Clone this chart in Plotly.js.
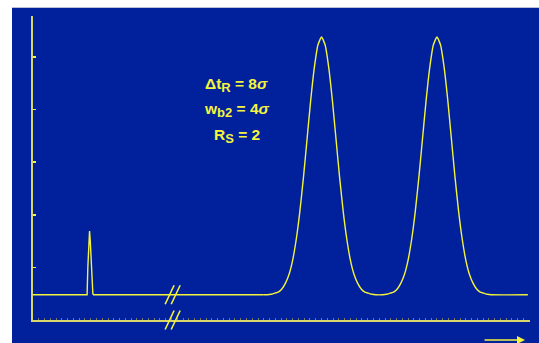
<!DOCTYPE html>
<html>
<head>
<meta charset="utf-8">
<script src="https://cdn.plot.ly/plotly-3.0.1.min.js"></script>
<style>
  html, body { margin: 0; padding: 0; background: #ffffff; width: 539px; height: 343px; overflow: hidden; }
  #chart { position: absolute; left: 12px; top: 7px; width: 527px; height: 336px; border-top: 1px solid #b8c0dc; box-sizing: border-box; }
</style>
</head>
<body>
<div id="chart"></div>
<script>
// Chromatogram (time in units of sigma, detector signal in tick units)
// Unretained solute spike + baseline up to the break
const spikeTime = [0, 3.75, 3.8, 3.85, 3.92, 3.97, 4.05, 4.15, 4.2, 16.0];
const spikeSignal = [0.48, 0.48, 1.0, 1.4, 1.69, 1.5, 0.9, 0.5, 0.48, 0.48];
// Two resolved peaks (Rs = 2) and the trailing baseline
const peakTime = [
  16.0,
  16.25, 16.5, 16.75, 17, 17.25, 17.5, 17.75, 18, 18.25, 18.5, 18.75, 19, 19.25, 19.5, 19.75,
  20, 20.25, 20.5, 20.75, 21, 21.25, 21.5, 21.75, 22, 22.25, 22.5, 22.75, 23, 23.25, 23.5, 23.75,
  24.25, 24.5, 24.75, 25, 25.25, 25.5, 25.75, 26, 26.25, 26.5, 26.75, 27, 27.25, 27.5, 27.75,
  28, 28.25, 28.5, 28.75, 29, 29.25, 29.5, 29.75, 30, 30.25, 30.5, 30.75, 31, 31.25, 31.5, 31.75,
  34.3
];
const peakSignal = [
  0.48,
  0.48, 0.49, 0.51, 0.53, 0.59, 0.70, 0.87, 1.14, 1.54, 2.07, 2.72, 3.45, 4.18, 4.80, 5.23,
  5.38, 5.23, 4.80, 4.18, 3.45, 2.72, 2.07, 1.54, 1.14, 0.87, 0.70, 0.59, 0.53, 0.51, 0.49, 0.48,
  0.48, 0.49, 0.51, 0.53, 0.59, 0.70, 0.87, 1.14, 1.54, 2.07, 2.72, 3.45, 4.18, 4.80, 5.23,
  5.38, 5.23, 4.80, 4.18, 3.45, 2.72, 2.07, 1.54, 1.14, 0.87, 0.70, 0.59, 0.53, 0.51, 0.49, 0.48,
  0.48
];
const yTickVals = [1, 2, 3, 4, 5];
const breakTimes = [9.47, 9.89];      // axis-break slash positions (time units)
const breakLevels = [0.48, 0.0];      // on the baseline and on the time axis
const labelLines = [
  'Δt<sub><span style="font-size:13px">R</span></sub> = 8<i>σ</i>',
  'w<sub><span style="font-size:13px">b2</span></sub> = 4<i>σ</i>',
  'R<sub><span style="font-size:13px">S</span></sub> = 2'
];

const xRange = [0, 34.45];
const yRange = [0, 5.78];
const yellow = '#f4f43c';
const axisYellow = '#d6d66a';
const blue = '#00209c';

function px(v) { return (v - xRange[0]) / (xRange[1] - xRange[0]); }
function py(v) { return (v - yRange[0]) / (yRange[1] - yRange[0]); }

const plotW = 527 - 21 - 9, plotH = 336 - 8 - 24;
const shapes = [];
breakTimes.forEach(function (t) {
  breakLevels.forEach(function (lv) {
    const cx = px(t), cy = py(lv);
    shapes.push({
      type: 'line', xref: 'paper', yref: 'paper',
      x0: cx - 4.5 / plotW, x1: cx + 4.5 / plotW,
      y0: cy - 9.5 / plotH, y1: cy + 9.5 / plotH,
      line: { color: yellow, width: 1.6 }
    });
  });
});

const annotations = labelLines.map(function (s, i) {
  return {
    xref: 'paper', yref: 'paper', x: 0.41, y: [0.772, 0.69, 0.605][i],
    text: s, showarrow: false, xanchor: 'center', yanchor: 'middle',
    font: { family: 'Liberation Sans, Arial, sans-serif', size: 15.5, color: yellow, weight: 'bold' }
  };
});
annotations.push({
  xref: 'paper', yref: 'paper', x: 0.99, y: -0.066,
  ax: -42, ay: 0, text: '', showarrow: true,
  arrowhead: 2, arrowsize: 1, arrowwidth: 1.6, arrowcolor: yellow
});

const traces = [
  {
    x: spikeTime, y: spikeSignal, type: 'scatter', mode: 'lines',
    line: { color: yellow, width: 1.4 }, hoverinfo: 'skip'
  },
  {
    x: peakTime, y: peakSignal, type: 'scatter', mode: 'lines',
    line: { color: yellow, width: 1.4, shape: 'spline', smoothing: 0.5 }, hoverinfo: 'skip'
  }
];

const layout = {
  width: 527, height: 336,
  margin: { l: 21, r: 9, t: 8, b: 24, pad: 0 },
  paper_bgcolor: blue, plot_bgcolor: blue,
  showlegend: false,
  xaxis: {
    range: xRange, showgrid: false, zeroline: false,
    showline: true, linecolor: axisYellow, linewidth: 2,
    ticks: 'inside', dtick: 0.4, tick0: 0, ticklen: 2, tickwidth: 1, tickcolor: '#7c7c62',
    showticklabels: false, fixedrange: true
  },
  yaxis: {
    range: yRange, showgrid: false, zeroline: false,
    showline: true, linecolor: axisYellow, linewidth: 2,
    ticks: 'inside', tickmode: 'array', tickvals: yTickVals, ticklen: 3, tickwidth: 1.5, tickcolor: yellow,
    showticklabels: false, fixedrange: true
  },
  shapes: shapes,
  annotations: annotations
};

Plotly.newPlot('chart', traces, layout, { displayModeBar: false, staticPlot: true });
</script>
</body>
</html>
